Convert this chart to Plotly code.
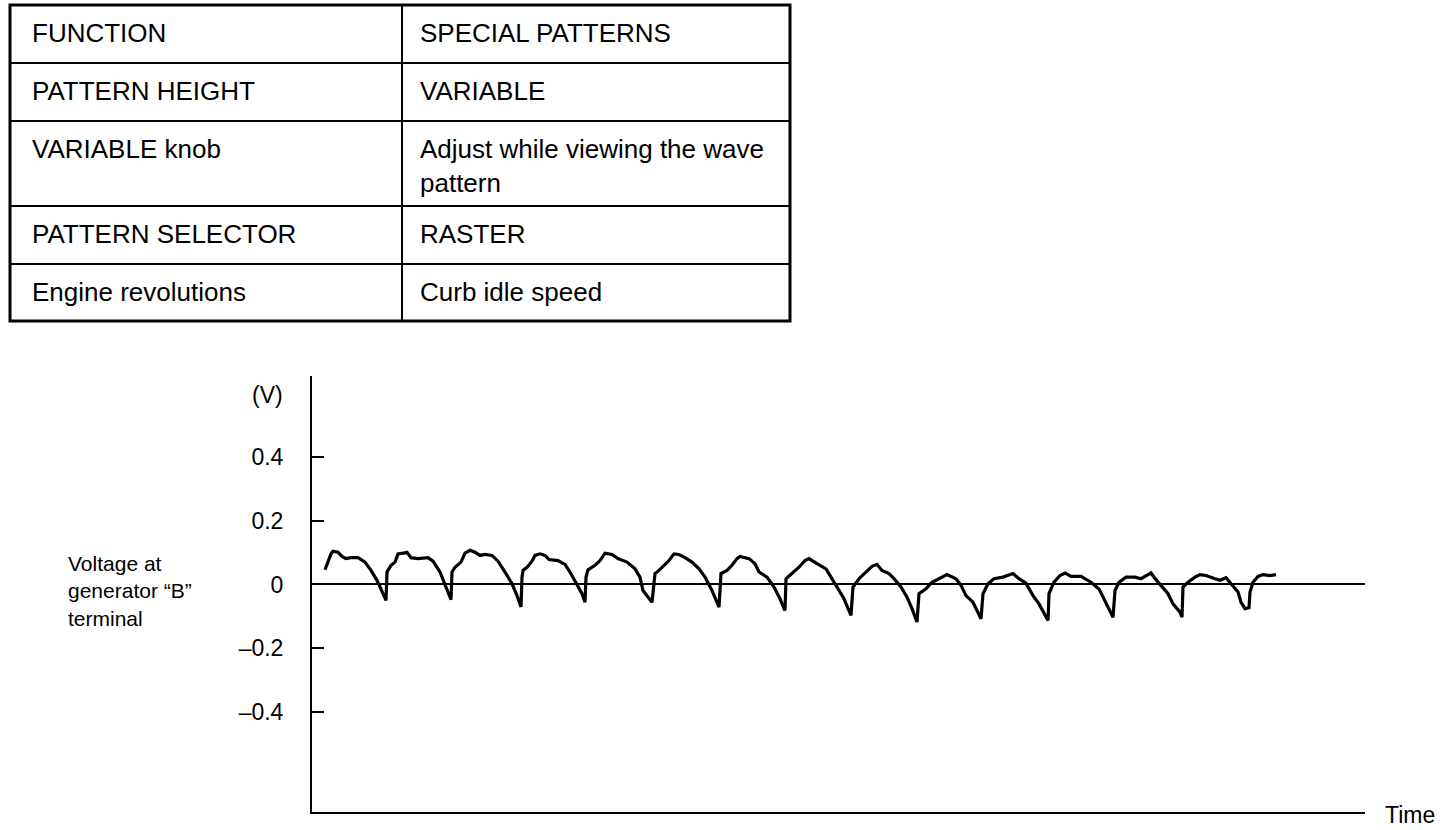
import plotly.graph_objects as go

# --- table content (two columns, first row is the heading) ---
function_col = ["FUNCTION", "PATTERN HEIGHT", "VARIABLE knob", "PATTERN SELECTOR", "Engine revolutions"]
setting_col = ["SPECIAL PATTERNS", "VARIABLE", "Adjust while viewing the wave<br>pattern", "RASTER",
               "Curb idle speed"]

# --- waveform: voltage at generator "B" terminal (V) vs time (arbitrary units) ---
time_pts = [
    1.3, 1.9, 2.1, 2.6, 3.0, 3.4, 3.9, 4.6, 5.3, 5.9, 6.5, 7.1, 7.4, 7.5, 7.9, 8.3, 8.6, 9.1,
    9.5, 9.9, 10.6, 11.6, 12.1, 12.8, 13.4, 13.9, 14.0, 14.3, 14.9, 15.3, 15.8, 16.3, 16.8,
    17.3, 18.0, 18.6, 19.3, 20.0, 20.5, 20.9, 21.0, 21.1, 21.5, 22.0, 22.3, 22.8, 23.3, 23.7,
    24.6, 25.3, 25.8, 26.5, 27.0, 27.3, 27.4, 27.6, 28.3, 28.8, 29.3, 30.0, 30.6, 31.5, 32.3,
    32.8, 33.1, 34.0, 34.3, 34.7, 35.2, 35.7, 36.2, 36.7, 37.3, 38.0, 38.7, 39.3, 40.0, 40.7,
    40.9, 41.5, 42.0, 42.5, 42.8, 43.7, 44.3, 44.7, 45.5, 46.2, 46.8, 47.3, 47.4, 48.0, 48.7,
    49.3, 49.7, 50.5, 51.4, 51.9, 52.5, 53.2, 53.9, 54.1, 54.7, 55.4, 56.0, 56.5, 57.0, 57.7,
    58.2, 58.9, 59.5, 60.0, 60.5, 60.7, 61.4, 62.0, 62.7, 63.5, 64.4, 64.9, 65.4, 66.1, 66.9,
    67.1, 67.6, 68.2, 69.1, 69.6, 70.1, 70.7, 71.4, 72.1, 72.7, 73.6, 73.7, 74.2, 74.8, 75.3,
    75.9, 76.9, 77.9, 78.7, 79.4, 80.1, 80.3, 80.7, 81.4, 82.3, 82.9, 83.6, 83.9, 84.4, 84.9,
    85.6, 86.1, 86.8, 87.0, 87.1, 87.6, 88.3, 88.8, 89.4, 90.3, 90.8, 91.4, 91.9, 92.6, 92.9,
    93.3, 93.7, 93.8, 94.1, 94.6, 95.1, 95.8, 96.4,
]
voltage = [
    0.046, 0.096, 0.104, 0.101, 0.088, 0.081, 0.084, 0.084, 0.070, 0.044, 0.013, -0.029, -0.050,
    0.039, 0.060, 0.070, 0.096, 0.098, 0.101, 0.084, 0.081, 0.084, 0.073, 0.039, -0.008, -0.048,
    0.039, 0.054, 0.070, 0.098, 0.107, 0.101, 0.091, 0.094, 0.091, 0.073, 0.039, 0.002, -0.035,
    -0.071, 0.023, 0.044, 0.054, 0.073, 0.091, 0.096, 0.091, 0.078, 0.075, 0.063, 0.039, 0.002,
    -0.029, -0.056, 0.023, 0.046, 0.060, 0.075, 0.098, 0.094, 0.081, 0.070, 0.049, 0.023, -0.019,
    -0.056, 0.034, 0.044, 0.060, 0.075, 0.096, 0.094, 0.084, 0.070, 0.049, 0.023, -0.019, -0.071,
    0.034, 0.044, 0.060, 0.081, 0.088, 0.081, 0.065, 0.039, 0.023, -0.008, -0.045, -0.082, 0.018,
    0.034, 0.054, 0.075, 0.081, 0.065, 0.049, 0.023, -0.008, -0.045, -0.097, -0.008, 0.018, 0.039,
    0.057, 0.063, 0.044, 0.034, 0.018, -0.008, -0.040, -0.076, -0.118, -0.029, -0.014, 0.007,
    0.018, 0.031, 0.018, -0.003, -0.035, -0.056, -0.108, -0.029, 0.002, 0.018, 0.023, 0.028,
    0.034, 0.018, 0.004, -0.035, -0.061, -0.113, -0.029, 0.007, 0.028, 0.036, 0.025, 0.025,
    0.007, -0.014, -0.056, -0.103, -0.019, 0.007, 0.023, 0.023, 0.018, 0.031, 0.036, 0.015,
    -0.003, -0.029, -0.061, -0.087, -0.103, -0.008, 0.007, 0.023, 0.031, 0.028, 0.018, 0.013,
    0.021, 0.002, -0.024, -0.056, -0.076, -0.073, -0.024, 0.007, 0.025, 0.031, 0.028, 0.031,
]

y_ticks = [0.4, 0.2, 0, -0.2, -0.4]
y_tick_text = ["0.4", "0.2", "0", "\u20130.2", "\u20130.4"]

W, H = 1440, 830
FONT = "Liberation Sans, Arial, Helvetica, sans-serif"

# table grid (pixels from top-left)
row_edges = [5, 63, 121, 206, 264, 321]
col_edges = [10, 402, 790]
text_x = [30, 418]


def px(x):
    return x / W


def py(y):
    return 1 - y / H


fig = go.Figure()

fig.add_trace(go.Scatter(x=time_pts, y=voltage, mode="lines",
                         line=dict(color="black", width=3.2), showlegend=False,
                         hoverinfo="skip"))

fig.update_layout(
    width=W, height=H, margin=dict(l=0, r=0, t=0, b=0),
    paper_bgcolor="white", plot_bgcolor="white", showlegend=False,
    font=dict(family=FONT, color="black"),
    xaxis=dict(domain=[312 / W, 1365 / W], range=[0, 105.3], showgrid=False,
               zeroline=False, showticklabels=False, ticks="",
               showline=True, linecolor="black", linewidth=2),
    yaxis=dict(domain=[1 - 812 / H, 1 - 376 / H], range=[-0.714, 0.654], showgrid=False,
               zeroline=True, zerolinecolor="black", zerolinewidth=2,
               tickvals=y_ticks, ticktext=y_tick_text, ticks="inside", ticklen=12,
               tickwidth=2, tickcolor="black", ticklabelstandoff=22,
               tickfont=dict(family=FONT, size=23, color="black"),
               showline=True, linecolor="black", linewidth=2),
)

# table grid lines
line = dict(color="black", width=2)
for y in row_edges[1:-1]:
    fig.add_shape(type="line", xref="paper", yref="paper", x0=px(col_edges[0]), x1=px(col_edges[-1]),
                  y0=py(y), y1=py(y), line=line)
fig.add_shape(type="line", xref="paper", yref="paper", x0=px(col_edges[1]), x1=px(col_edges[1]),
              y0=py(row_edges[0]), y1=py(row_edges[-1]), line=line)
fig.add_shape(type="rect", xref="paper", yref="paper", x0=px(col_edges[0]), x1=px(col_edges[-1]),
              y0=py(row_edges[0]), y1=py(row_edges[-1]), line=dict(color="black", width=3))

# table cell text
cell_font = dict(family=FONT, size=26, color="black")
for c, col in enumerate((function_col, setting_col)):
    for r, txt in enumerate(col):
        fig.add_annotation(x=px(text_x[c]), y=py(row_edges[r] + 11), text=txt, xref="paper",
                           yref="paper", xanchor="left", yanchor="top", align="left",
                           showarrow=False, font=cell_font)

ann = dict(xref="paper", yref="paper", showarrow=False)
fig.add_annotation(x=px(285), y=py(395), text="(V)", xanchor="right", yanchor="middle",
                   font=dict(family=FONT, size=23, color="black"), **ann)
fig.add_annotation(x=px(66), y=py(591), text="Voltage at<br>generator \u201cB\u201d<br>terminal",
                   xanchor="left", yanchor="middle", align="left",
                   font=dict(family=FONT, size=21, color="black"), **ann)
fig.add_annotation(x=px(1383), y=py(815), text="Time", xanchor="left", yanchor="middle",
                   font=dict(family=FONT, size=23, color="black"), **ann)

fig.write_html("out.html", config={"displayModeBar": False},
               post_script="document.body.style.margin='0';")
